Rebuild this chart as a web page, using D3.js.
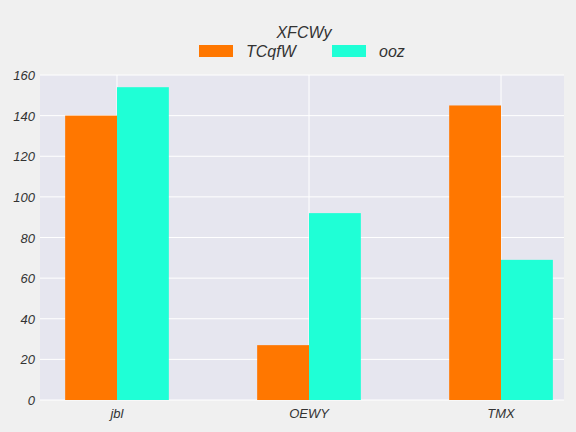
<!DOCTYPE html>
<html>
<head>
<meta charset="utf-8">
<script src="https://d3js.org/d3.v7.min.js"></script>
<style>
  body { margin: 0; background: #f0f0f0; }
  text { font-family: "Liberation Sans", Arial, sans-serif; font-style: italic; fill: #333; }
</style>
</head>
<body>
<svg id="chart" width="576" height="432"></svg>
<script>
const categories = ["jbl", "OEWY", "TMX"];
const seriesNames = ["TCqfW", "ooz"];
const TCqfW = [140, 27, 145];
const ooz = [154, 92, 69];
const yTicks = [0, 20, 40, 60, 80, 100, 120, 140, 160];
const colors = ["#ff7700", "#1fffd6"];

const svg = d3.select("#chart");
const pLeft = 40, pRight = 564, pTop = 75, pBottom = 400;

svg.append("rect").attr("x", pLeft).attr("y", pTop)
  .attr("width", pRight - pLeft).attr("height", pBottom - pTop).attr("fill", "#e6e6ef");

let x = d3.scaleLinear().domain([-0.401, 2.328]).range([pLeft, pRight]);
let y = d3.scaleLinear().domain([0, 160]).range([pBottom, pTop]);
const bw = x(0.27) - x(0);

// grid
svg.selectAll(".hg").data(yTicks).enter().append("line")
  .attr("x1", pLeft).attr("x2", pRight)
  .attr("y1", d => y(d)).attr("y2", d => y(d))
  .attr("stroke", "#fff").attr("stroke-width", 1);
svg.selectAll(".vg").data(categories).enter().append("line")
  .attr("x1", (d, i) => x(i)).attr("x2", (d, i) => x(i))
  .attr("y1", pTop).attr("y2", pBottom)
  .attr("stroke", "#fff").attr("stroke-width", 1);

// bars
[TCqfW, ooz].forEach((vals, s) => {
  svg.selectAll(".b" + s).data(vals).enter().append("rect")
    .attr("x", (d, i) => s === 0 ? x(i) - bw : x(i))
    .attr("width", bw)
    .attr("y", d => y(d))
    .attr("height", d => y(0) - y(d))
    .attr("fill", colors[s]);
});

// ticks
svg.selectAll(".yt").data(yTicks).enter().append("text")
  .attr("x", pLeft - 5).attr("y", d => y(d) + 5)
  .attr("text-anchor", "end").attr("font-size", 13).text(d => d);
svg.selectAll(".xt").data(categories).enter().append("text")
  .attr("x", (d, i) => x(i)).attr("y", pBottom + 18)
  .attr("text-anchor", "middle").attr("font-size", 13).text(d => d);

// title + legend
svg.append("text").attr("x", 304).attr("y", 38).attr("text-anchor", "middle")
  .attr("font-size", 16).text("XFCWy");
const lx = [199, 332];
seriesNames.forEach((n, s) => {
  svg.append("rect").attr("x", lx[s]).attr("y", 45).attr("width", 34).attr("height", 12)
    .attr("fill", colors[s]);
  svg.append("text").attr("x", lx[s] + 47).attr("y", 57).attr("font-size", 16).text(n);
});
</script>
</body>
</html>
